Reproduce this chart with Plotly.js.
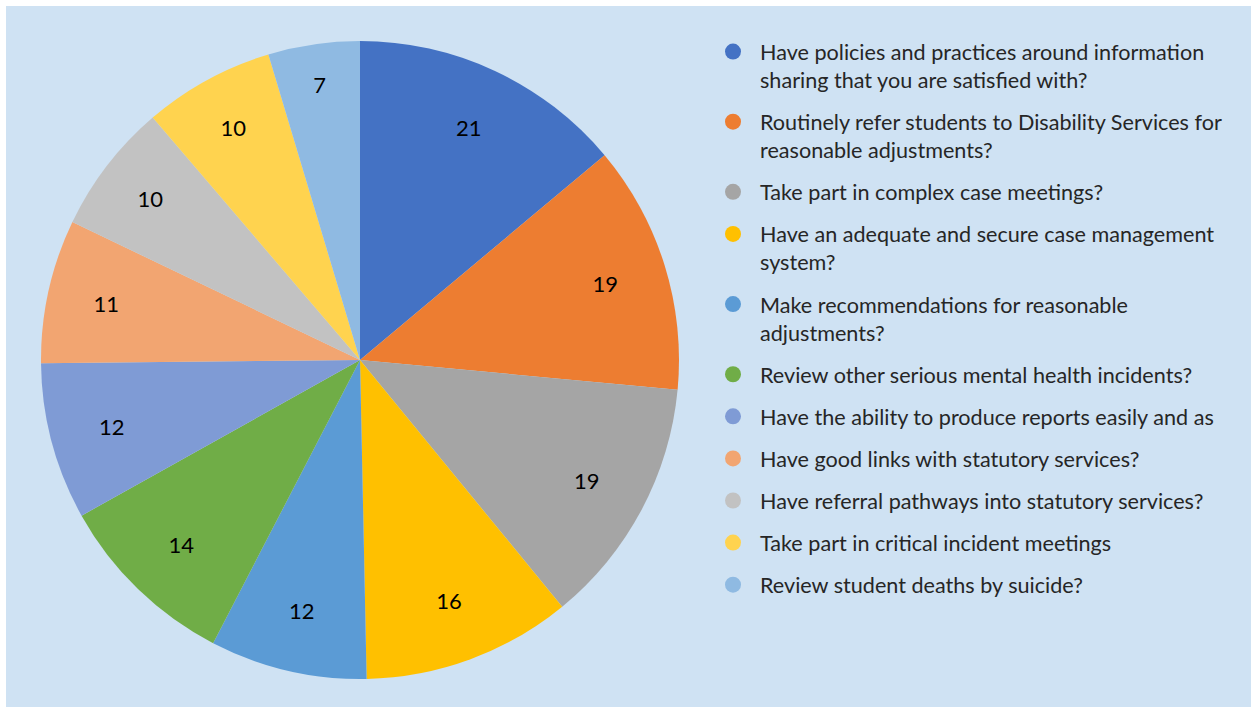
<!DOCTYPE html>
<html>
<head>
<meta charset="utf-8">
<script src="https://cdn.plot.ly/plotly-3.0.1.min.js"></script>
<style>
html,body{margin:0;padding:0;background:#ffffff;}
#chart{position:absolute;left:6px;top:6px;width:1245px;height:701px;}
</style>
</head>
<body>
<div id="chart"></div>
<script>
const categories = [
  "Have policies and practices around information<br>sharing that you are satisfied with?",
  "Routinely refer students to Disability Services for<br>reasonable adjustments?",
  "Take part in complex case meetings?",
  "Have an adequate and secure case management<br>system?",
  "Make recommendations for reasonable<br>adjustments?",
  "Review other serious mental health incidents?",
  "Have the ability to produce reports easily and as",
  "Have good links with statutory services?",
  "Have referral pathways into statutory services?",
  "Take part in critical incident meetings",
  "Review student deaths by suicide?"
];
const values = [21, 19, 19, 16, 12, 14, 12, 11, 10, 10, 7];
const colors = ["#4472C4","#ED7D31","#A5A5A5","#FFC000","#5B9BD5","#70AD47",
                "#7F9BD5","#F2A571","#C2C2C2","#FFD34F","#8FBAE2"];

const W = 1245, H = 701;
const cx = 354, cy = 354, R = 319;
const dom = {x: [(cx - R) / W, (cx + R) / W], y: [(H - cy - R) / H, (H - cy + R) / H]};

const traces = [{
  type: "pie",
  labels: categories,
  values: values,
  sort: false,
  direction: "clockwise",
  rotation: 0,
  marker: {colors: colors, line: {width: 0}},
  textinfo: "none",
  showlegend: false,
  hoverinfo: "label+value",
  domain: dom
}, {
  // transparent ring carrying the value labels near the outer part of each slice
  type: "pie",
  labels: categories,
  values: values,
  sort: false,
  direction: "clockwise",
  rotation: 0,
  hole: 0.61,
  marker: {colors: values.map(() => "rgba(0,0,0,0)"), line: {width: 0}},
  textinfo: "value",
  textposition: "inside",
  insidetextorientation: "horizontal",
  insidetextfont: {family: "Lato, sans-serif", size: 22, color: "#000000"},
  showlegend: false,
  hoverinfo: "skip",
  domain: dom
}];

categories.forEach((c, i) => {
  traces.push({
    type: "scatter", mode: "markers",
    x: [null], y: [null],
    name: c,
    legendgroup: "g" + i,
    marker: {symbol: "circle", size: 20, color: colors[i]},
    showlegend: true,
    hoverinfo: "skip"
  });
});

const layout = {
  width: W, height: H,
  margin: {l: 0, r: 0, t: 0, b: 0},
  paper_bgcolor: "#CFE2F3",
  plot_bgcolor: "rgba(0,0,0,0)",
  xaxis: {visible: false},
  yaxis: {visible: false},
  showlegend: true,
  legend: {
    x: 700 / W, xanchor: "left",
    y: (H - 25) / H, yanchor: "top",
    bgcolor: "rgba(0,0,0,0)",
    font: {family: "Lato, sans-serif", size: 21.6, color: "#262626"},
    valign: "top",
    itemwidth: 44,
    tracegroupgap: 11,
    traceorder: "grouped",
    itemclick: false, itemdoubleclick: false
  }
};

Plotly.newPlot("chart", traces, layout, {displayModeBar: false, staticPlot: true});
</script>
</body>
</html>
